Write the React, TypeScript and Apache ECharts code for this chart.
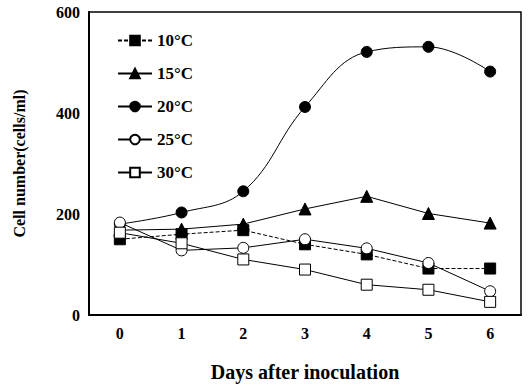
import React, { useEffect, useRef } from "react";
import * as echarts from "echarts";

const days = ["0", "1", "2", "3", "4", "5", "6"];
const t10 = [150, 160, 168, 140, 120, 92, 92];
const t15 = [168, 170, 180, 210, 235, 201, 182];
const t20 = [180, 203, 245, 412, 521, 531, 482];
const t25 = [183, 128, 133, 150, 132, 103, 47];
const t30 = [163, 142, 110, 90, 60, 50, 26];
const names = ["10°C", "15°C", "20°C", "25°C", "30°C"];

const FONT = "Liberation Serif";

export default function App() {
  const ref = useRef<HTMLDivElement>(null);
  useEffect(() => {
    if (!ref.current) return;
    const chart = echarts.init(ref.current, null, { renderer: "svg" });
    const base = (name: string, data: number[], symbol: string, filled: boolean, extra: any = {}) => ({
      name,
      type: "line",
      data,
      symbol,
      symbolSize: symbol === "triangle" ? 12 : 11,
      lineStyle: { color: "#000", width: 1, ...(extra.lineStyle || {}) },
      itemStyle: { color: filled ? "#000" : "#fff", borderColor: "#000", borderWidth: 1 },
      smooth: extra.smooth || false,
      z: extra.z || 2,
    });
    chart.setOption({
      animation: false,
      backgroundColor: "#fff",
      grid: {
        left: 89,
        right: 9,
        top: 12,
        bottom: 71,
        show: true,
        borderColor: "#000",
        borderWidth: 1.5,
      },
      legend: {
        orient: "vertical",
        left: 112,
        top: 27,
        itemWidth: 34,
        itemHeight: 12,
        itemGap: 16,
        data: names,
        textStyle: { fontFamily: FONT, fontWeight: "bold", fontSize: 17, color: "#000" },
      },
      xAxis: {
        type: "category",
        data: days,
        boundaryGap: true,
        axisLine: { show: true, lineStyle: { color: "#000", width: 2 } },
        axisTick: { show: false },
        axisLabel: { fontFamily: FONT, fontWeight: "bold", fontSize: 16, color: "#000", margin: 10 },
        name: "Days after inoculation",
        nameLocation: "middle",
        nameGap: 47,
        nameTextStyle: { fontFamily: FONT, fontWeight: "bold", fontSize: 20, color: "#000" },
      },
      yAxis: {
        type: "value",
        min: 0,
        max: 600,
        interval: 200,
        splitLine: { show: false },
        axisLine: { show: true, lineStyle: { color: "#000", width: 2 } },
        axisTick: { show: false },
        axisLabel: { fontFamily: FONT, fontWeight: "bold", fontSize: 16, color: "#000", margin: 9 },
        name: "Cell number(cells/ml)",
        nameLocation: "middle",
        nameGap: 62,
        nameRotate: 90,
        nameTextStyle: { fontFamily: FONT, fontWeight: "bold", fontSize: 16, color: "#000" },
      },
      series: [
        base(names[0], t10, "rect", true, { lineStyle: { type: [4, 2] } }),
        base(names[1], t15, "triangle", true),
        base(names[2], t20, "circle", true, { smooth: 0.4 }),
        base(names[3], t25, "circle", false, { z: 3 }),
        base(names[4], t30, "rect", false, { z: 3 }),
      ],
    });
    return () => chart.dispose();
  }, []);
  return (
    <div
      ref={ref}
      style={{ position: "absolute", left: 0, top: 0, width: 530, height: 387 }}
    />
  );
}
